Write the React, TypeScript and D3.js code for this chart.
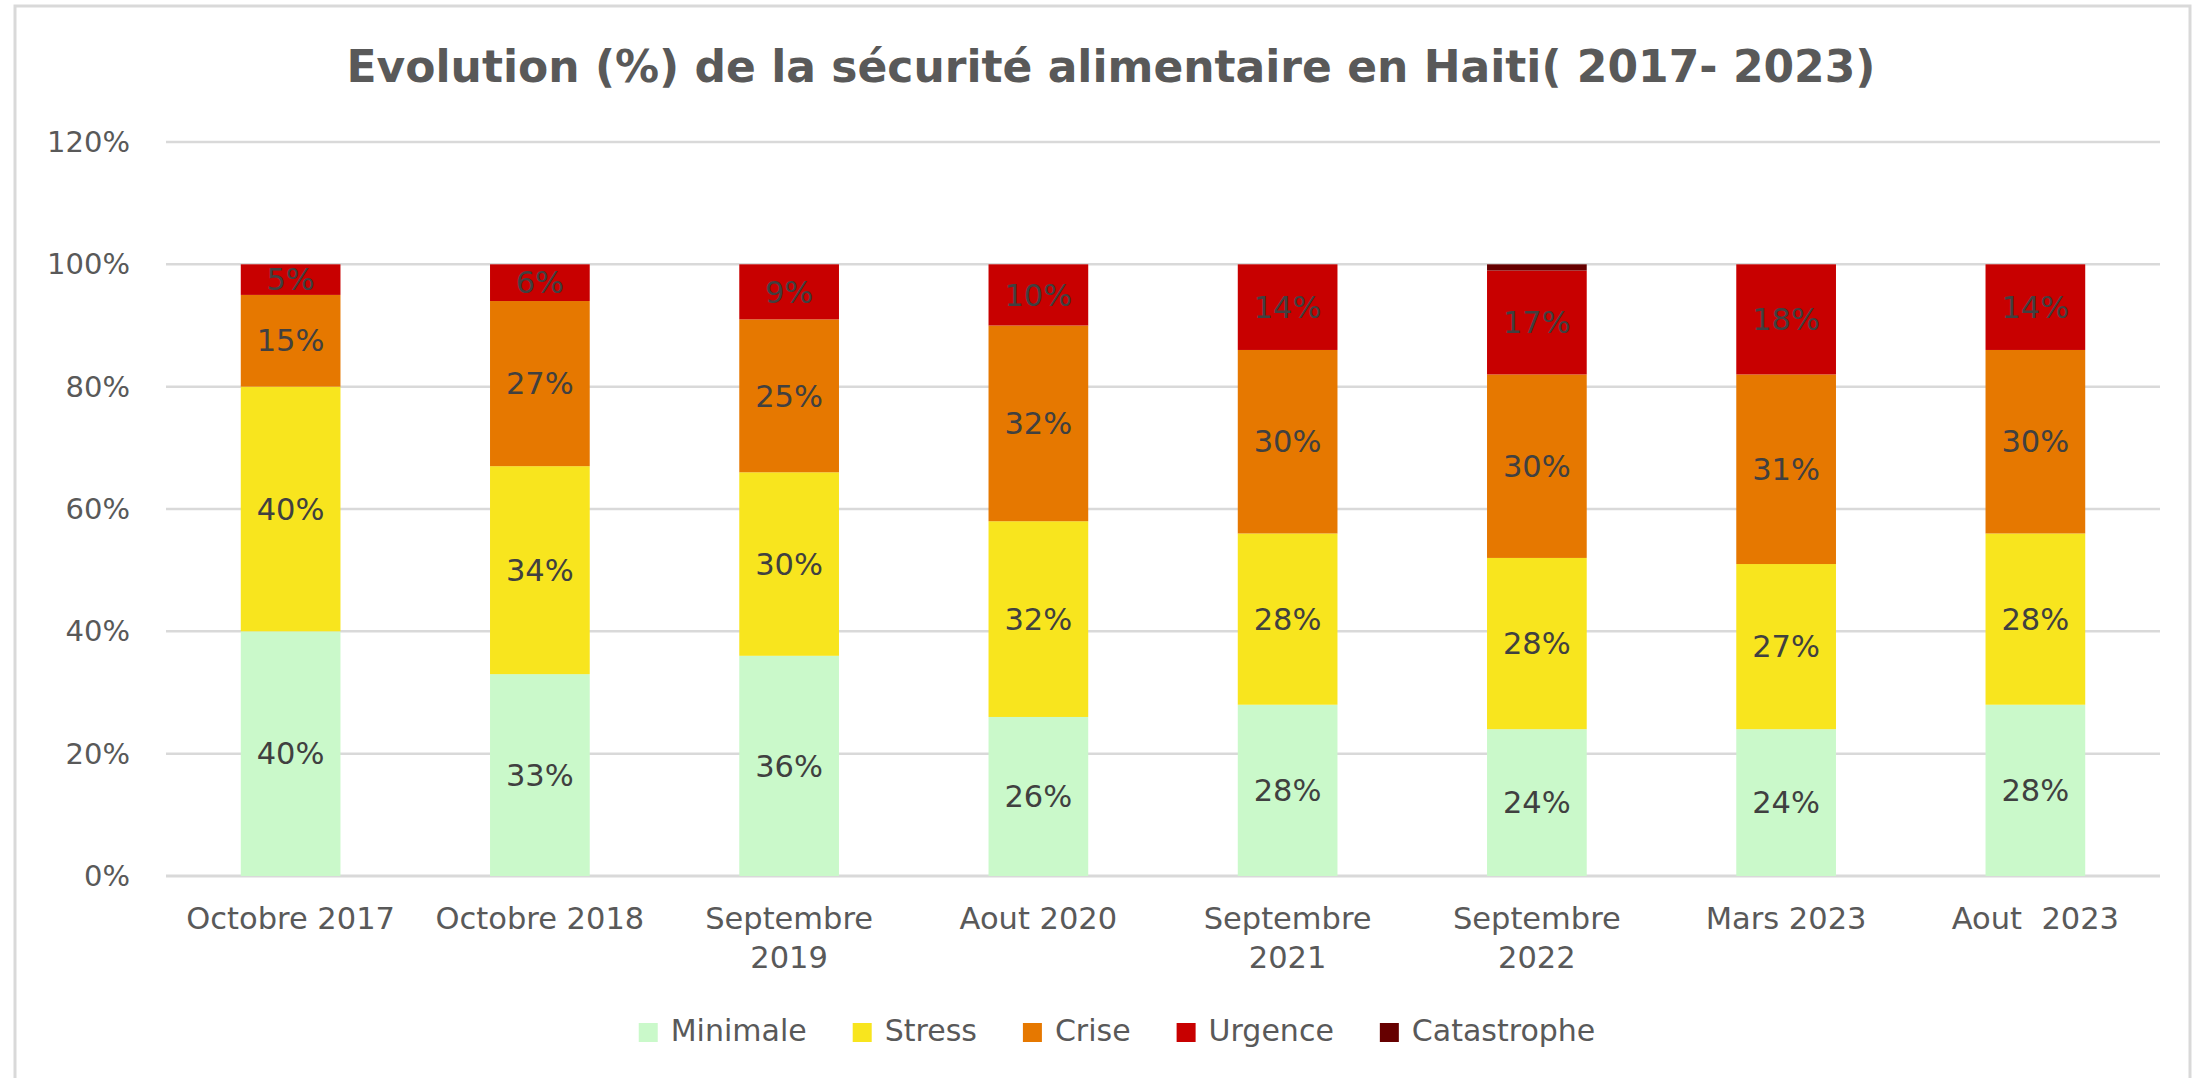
import React, { useLayoutEffect, useRef, useState } from "react";
import * as d3 from "d3";

const categories: string[][] = [
  ["Octobre 2017"],
  ["Octobre 2018"],
  ["Septembre", "2019"],
  ["Aout 2020"],
  ["Septembre", "2021"],
  ["Septembre", "2022"],
  ["Mars 2023"],
  ["Aout  2023"],
];

const seriesNames = ["Minimale", "Stress", "Crise", "Urgence", "Catastrophe"];
const minimale = [0.40, 0.33, 0.36, 0.26, 0.28, 0.24, 0.24, 0.28];
const stress = [0.40, 0.34, 0.30, 0.32, 0.28, 0.28, 0.27, 0.28];
const crise = [0.15, 0.27, 0.25, 0.32, 0.30, 0.30, 0.31, 0.30];
const urgence = [0.05, 0.06, 0.09, 0.10, 0.14, 0.17, 0.18, 0.14];
const catastrophe = [0, 0, 0, 0, 0, 0.01, 0, 0];
const seriesColors = ["#CAF9CA", "#F8E51E", "#E67800", "#C80000", "#660000"];
const yTicks = [0, 0.2, 0.4, 0.6, 0.8, 1.0, 1.2];
const title = "Evolution (%) de la sécurité alimentaire en Haiti( 2017- 2023)";

const W = 2211;
const H = 1078;
const FONT = "'DejaVu Sans', Verdana, sans-serif";

export default function App() {
  const seriesValues = [minimale, stress, crise, urgence, catastrophe];
  const rows = categories.map((c, i) => {
    const r: any = { key: String(i) };
    seriesNames.forEach((s, j) => (r[s] = seriesValues[j][i]));
    return r;
  });
  const stack = d3.stack<any>().keys(seriesNames)(rows);

  const x = d3
    .scaleBand<string>()
    .domain(categories.map((_, i) => String(i)))
    .range([166, 2160])
    .paddingInner(0.6)
    .paddingOuter(0.3);
  const y = d3.scaleLinear().domain([0, 1.2]).range([876, 142]);

  const legendRefs = useRef<(SVGTextElement | null)[]>([]);
  const [legendW, setLegendW] = useState<number[]>(seriesNames.map((s) => s.length * 18));
  useLayoutEffect(() => {
    const ws = legendRefs.current.map((t) => (t ? t.getComputedTextLength() : 0));
    setLegendW(ws);
  }, []);

  const sw = 19;
  const swGap = 13;
  const itemGap = 46;
  const totalLegend =
    legendW.reduce((a, b) => a + b, 0) + seriesNames.length * (sw + swGap) + (seriesNames.length - 1) * itemGap;
  const legendStart = 1117 - totalLegend / 2;
  const legendX: number[] = [];
  let cx = legendStart;
  legendW.forEach((w) => {
    legendX.push(cx);
    cx += sw + swGap + w + itemGap;
  });

  return (
    <svg
      width={W}
      height={H}
      style={{ position: "absolute", left: 0, top: 0, background: "#fff" }}
      fontFamily={FONT}
    >
      <rect x={0} y={0} width={W} height={H} fill="#fff" />
      <rect x={15} y={6} width={2175} height={1100} fill="#fff" stroke="#D9D9D9" strokeWidth={3} />

      <text x={1111} y={82} textAnchor="middle" fontSize={44} fontWeight="bold" fill="#595959">
        {title}
      </text>

      {yTicks.map((t) => (
        <g key={t}>
          <line x1={166} x2={2160} y1={y(t)} y2={y(t)} stroke="#D9D9D9" strokeWidth={t === 0 ? 3 : 2.5} />
          <text x={130} y={y(t)} dy="0.35em" textAnchor="end" fontSize={29} fill="#595959">
            {d3.format(".0%")(t)}
          </text>
        </g>
      ))}

      {stack.map((layer, j) => (
        <g key={layer.key} fill={seriesColors[j]}>
          {layer.map((d, i) => {
            const h = y(d[0]) - y(d[1]);
            if (h <= 0) return null;
            return (
              <rect key={i} x={x(String(i))!} y={y(d[1])} width={x.bandwidth()} height={h} />
            );
          })}
        </g>
      ))}

      {stack.map((layer, j) => (
        <g key={"l" + layer.key}>
          {layer.map((d, i) => {
            const v = d[1] - d[0];
            if (v < 0.03) return null;
            return (
              <text
                key={i}
                x={x(String(i))! + x.bandwidth() / 2}
                y={y((d[0] + d[1]) / 2)}
                dy="0.35em"
                textAnchor="middle"
                fontSize={30.5}
                fill="#404040"
              >
                {Math.round(v * 100) + "%"}
              </text>
            );
          })}
        </g>
      ))}

      {categories.map((lines, i) => (
        <text
          key={i}
          x={x(String(i))! + x.bandwidth() / 2}
          y={929}
          textAnchor="middle"
          fontSize={30.5}
          fill="#595959"
        >
          {lines.map((l, k) => (
            <tspan key={k} x={x(String(i))! + x.bandwidth() / 2} dy={k === 0 ? 0 : 39} style={{ whiteSpace: "pre" }}>
              {l}
            </tspan>
          ))}
        </text>
      ))}

      {seriesNames.map((s, j) => (
        <g key={s}>
          <rect x={legendX[j]} y={1023} width={sw} height={sw} fill={seriesColors[j]} />
          <text
            ref={(el) => {
              legendRefs.current[j] = el;
            }}
            x={legendX[j] + sw + swGap}
            y={1041}
            fontSize={30}
            fill="#595959"
          >
            {s}
          </text>
        </g>
      ))}
    </svg>
  );
}
